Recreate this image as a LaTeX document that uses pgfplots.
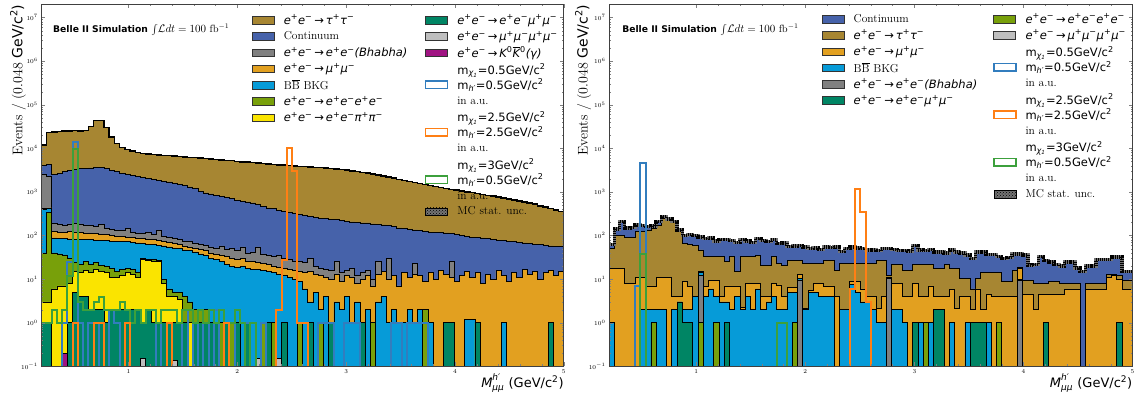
\documentclass[border=0pt]{standalone}
\usepackage{fontspec}
\usepackage{pgfplots}
\usepackage{pgfplotstable}
\pgfplotsset{compat=1.18}
\usetikzlibrary{patterns}
\newfontfamily\dvs{DejaVu Sans}

\definecolor{ctau}{RGB}{167,134,50}
\definecolor{ccont}{RGB}{70,98,170}
\definecolor{cbha}{RGB}{128,128,128}
\definecolor{cmumu}{RGB}{226,160,32}
\definecolor{cbb}{RGB}{6,155,216}
\definecolor{ceeee}{RGB}{120,160,10}
\definecolor{cpipi}{RGB}{250,228,0}
\definecolor{ceemm}{RGB}{0,133,100}
\definecolor{cmmmm}{RGB}{190,190,190}
\definecolor{ckk}{RGB}{160,20,130}
\definecolor{sblue}{RGB}{50,125,190}
\definecolor{sorange}{RGB}{255,127,20}
\definecolor{sgreen}{RGB}{60,160,60}

\newcommand{\su}[1]{\textsuperscript{\upshape #1}}
\newcommand{\pr}[1]{{\dvs\itshape #1}}
\newcommand{\arr}{\,{\upshape →}\,}
\newcommand{\ee}{e\su{+}e\su{−}}
\newcommand{\sig}[2]{\fontsize{11.5}{15}\selectfont{\dvs m\textsubscript{\itshape χ\textsubscript{1}}=#1GeV/c\su{2}}\\{\dvs m\textsubscript{\itshape h′}=#2GeV/c\su{2}}\\in a.u.}
\newcommand{\xlab}{$\mbox{\dvs\itshape M}^{\mbox{\fontsize{9}{9}\selectfont\dvs\itshape h′}}_{\mbox{\fontsize{9}{9}\selectfont\dvs\itshape μμ}}$ {\dvs (GeV/c\su{2})}}
\newcommand{\ylab}{Events / (0.048 {\dvs GeV/c\su{2})}}
\newcommand{\belle}{{\fontsize{9.2}{10}\selectfont\dvs\bfseries Belle II Simulation} {\fontsize{10.5}{11}\selectfont$\int\!\mathcal{L}dt=100$ fb$^{-1}$}}

% stacked heights per bin (cumulative, from the top layer down), and signal histograms
\pgfplotstableread{
x T C G O B E Y M Q K sA sB sC
0.200 0 0 0 0 0 0 0 0 0 0 0 0 0
0.200 12000 4000 2600 420 400 40 3 1 0 0 0 0 1
0.248 23000 4300 2300 430 410 340 3 1 0 0 0 0 1
0.296 24000 2500 190 125 88 40 6 0 0 0 0 0 2
0.344 24500 2700 180 120 86 38 7 0 0 0 0 0 1
0.392 25000 2900 175 118 85 36 7 0.2 0.2 0.2 1 0 2
0.440 25000 3100 185 122 84 30 8 1 0 0 25 0 12
0.488 25500 3300 190 120 83 24 15 5 0 0 14000 1 9500
0.536 25000 3400 185 118 82 22 14 4 0 0 1 0 3
0.584 26000 3500 175 115 80 25 16 4 0 0 0 0 2
0.632 32000 3550 170 112 80 22 14 2 0 0 1 0 2
0.680 43000 3600 165 110 78 24 17 2 0 0 1 1 3
0.728 44000 3600 180 108 77 21 15 2 0 0 0 1 4
0.776 30000 3500 150 105 76 20 14 1 0 0 0 0 2
0.824 18000 3100 140 100 75 18 11 2 0 0 2 0 2
0.872 13000 2900 135 98 74 15 11 2 0 0 1 0 2
0.920 10500 2700 130 95 72 17 12 2 0 0 0 0 3
0.968 9300 2500 145 92 72 18 14 2 0 0 0 1 2
1.016 8600 2350 120 90 70 17 13 2 0 0 0 0 1
1.064 8000 2250 115 88 68 14 11 2 0 0 0 0 2
1.112 7700 2150 112 86 66 30 28 1 0.15 0 0 0 1
1.160 7400 2050 118 84 64 29 27 2 0 0 0 0 2
1.208 7200 1950 105 80 62 28 26 1 0 0 0 0 2
1.256 7000 1850 130 78 60 27 25 1 0 0 1 0 1
1.304 6900 1780 95 75 58 10 8 1 0 0 0 0 2
1.352 6800 1700 90 70 55 6 4 1 0 0 1 1 2
1.400 6650 1600 85 66 52 5 4 1 0.14 0 0 0 2
1.448 6500 1500 80 62 50 5 3.5 1 0 0 0 0 1
1.496 6350 1400 75 58 47 4 1 1 0 0 2 0 2
1.544 6200 1300 72 55 45 3 1 0 0 0 0 0 2
1.592 6100 1200 68 52 42 2 1 1 0 0 1 0 1
1.640 6000 1050 62 48 38 2 1 1 0 0 0 0 2
1.688 5850 950 60 45 35 2 1 1 0 0 1 0 1
1.736 5700 900 55 40 30 1 1 1 0 0 0 0 2
1.784 5550 850 52 38 28 1 1 1 0 0 2 0 1
1.832 5450 800 58 36 25 1 0 0 0 0 0 0 2
1.880 5300 750 48 33 22 1 1 1 0 0 0 1 1
1.928 5200 700 50 30 20 1 0 0 0 0 1 0 1
1.976 5050 650 45 29 19 1 1 1 0 0 0 0 2
2.024 4900 620 55 30 20 0 0 0 0 0 0 0 1
2.072 4800 590 40 26 18 1 1 1 0 0 1 0 0
2.120 4700 560 42 25 17 0 0 0 0 0 0 0 1
2.168 4600 520 55 24 17 0.15 0.15 0.15 0.15 0 0 0 0
2.216 4500 470 38 23 16 1 0 0 0 0 1 0 0
2.264 4400 430 36 22 15 1 1 1 0 0 0 0 0
2.312 4300 420 33 20 14 1 0 0 0 0 0 0 0
2.360 4200 380 35 19 13 0.15 0.15 0.15 0.15 0 0 2 0
2.408 4100 360 30 18 12 1 1 1 0 0 0 27 0
2.456 4000 340 28 17 11 0 0 0 0 0 0 10000 0
2.504 3900 320 26 16 10 0 0 0 0 0 0 3000 0
2.552 3850 300 25 15 9 1 0 0 0 0 0 1 0
2.600 3800 290 24 14 6 0 0 0 0 0 0 1 0
2.648 3700 280 30 15 3 1 1 1 0 0 0 0 0
2.696 3650 265 20 13 5 0 0 0 0 0 0 0 0
2.744 3600 250 18 12 2 1 0 0 0 0 1 0 0
2.792 3500 245 17 11 4 0 0 0 0 0 1 0 0
2.840 3450 235 16 10 1 1 1 1 0 0 1 0 0
2.888 3350 230 26 13 3 0 0 0 0 0 0 0 0
2.936 3300 220 14 9 2 0 0 0 0 0 0 0 0
2.984 3200 215 16 12 4 0 0 0 0 0 1 0 0
3.032 3050 205 18 11 1 0 0 0 0 0 1 0 0
3.080 2950 200 12 8 3 0 0 0 0 0 1 0 0
3.128 2800 195 14 10 1 1 1 1 0 0 0 0 0
3.176 2700 195 16 12 2 0 0 0 0 0 0 0 0
3.224 2600 185 10 7 1 1 0 0 0 0 0 0 0
3.272 2450 180 25 13 3 0 0 0 0 0 0 0 0
3.320 2300 175 15 15 4 0 0 0 0 0 0 0 0
3.368 2200 170 30 10 1 0 0 0 0 0 0 0 0
3.416 2100 160 12 12 2 0 0 0 0 0 1 0 0
3.464 1950 150 7 7 1 0 0 0 0 0 1 0 0
3.512 1850 145 14 14 1 0 0 0 0 0 0 0 0
3.560 1750 140 11 11 2 0 0 0 0 0 1 0 0
3.608 1650 135 23 13 1 0 0 0 0 0 1 0 0
3.656 1580 130 12 12 2 0 0 0 0 0 1 0 0
3.704 1500 125 9 9 2 2 0 0 0 0 1 0 0
3.752 1420 120 14 14 1 0 0 0 0 0 0 0 0
3.800 1350 118 10 10 0 0 0 0 0 0 0 0 0
3.848 1280 116 16 16 0 0 0 0 0 0 0 0 0
3.896 1200 115 13 13 1 1 1 1 0 0 0 0 0
3.944 1150 110 25 11 1 1 1 1 0 0 0 0 0
3.992 1100 105 9 9 0 0 0 0 0 0 0 0 0
4.040 1050 100 12 12 0 0 0 0 0 0 0 0 0
4.088 1000 95 15 15 1.2 0 0 0 0 0 0 0 0
4.136 960 92 11 11 1.2 0 0 0 0 0 0 0 0
4.184 930 90 14 14 1 1 1 1 0 0 0 0 0
4.232 880 88 8 8 0 0 0 0 0 0 0 0 0
4.280 840 85 13 13 0 0 0 0 0 0 0 0 0
4.328 800 80 10 10 0 0 0 0 0 0 0 0 0
4.376 760 78 16 16 0 0 0 0 0 0 0 0 0
4.424 720 76 12 12 1 0 0 0 0 0 0 0 0
4.472 690 74 9 9 0 0 0 0 0 0 0 0 0
4.520 650 73 14 14 0 0 0 0 0 0 0 0 0
4.568 620 70 11 11 0 0 0 0 0 0 0 0 0
4.616 590 68 17 17 0 0 0 0 0 0 0 0 0
4.664 560 66 13 13 0 0 0 0 0 0 0 0 0
4.712 530 64 15 15 0 0 0 0 0 0 0 0 0
4.760 480 62 10 10 0 0 0 0 0 0 0 0 0
4.808 450 60 14 14 0 0 0 0 0 0 0 0 0
4.856 420 58 16 16 1 1 1 1 0 0 0 0 0
4.904 390 57 12 12 0 0 0 0 0 0 0 0 0
4.952 360 56 15 15 0 0 0 0 0 0 0 0 0
5.000 360 56 15 15 0 0 0 0 0 0 0 0 0
5.000 0 0 0 0 0 0 0 0 0 0 0 0 0
}\leftdata

\pgfplotstableread{
x C T O B G M E sA sB sC
0.200 0 0 0 0 0 0 0 0 0 0
0.200 63 50 18 1 0 0 0 0 0 0
0.248 140 100 18 0 0 0 0 0 0 0
0.296 210 100 18 0 0 0 0 0 0 0
0.344 150 92 8 0 0 0 0 0 0 0
0.392 155 90 8 0 0 0 0 0 0 0
0.440 175 122 11 0 0 0 0 7 0 0
0.488 172 125 11 2 0 0 0 4700 0 38
0.536 160 135 7 2 0 0 0 0 0 0
0.584 165 150 7 2 1 1 1 0 0 0
0.632 210 175 11 2 0 0 0 0 0 0
0.680 270 250 11 2 0 0 0 0 0 0
0.728 240 220 11 0 0 0 0 0 0 0
0.776 210 200 4 2 0 0 0 0 0 0
0.824 135 123 4 3 3 3 0 0 0 0
0.872 100 66 9 2 1 1 0 0 0 0
0.920 105 62 7 2 1 1 0 0 0 0
0.968 100 60 4 4 0 0 0 0 0 0
1.016 92 47 15 14 12 1 1 0 0 0
1.064 85 33 7 4 0 0 0 0 0 0
1.112 88 33 9.5 6 0 0 0 0 0 0
1.160 75 33 9.5 4 1 1 1 0 0 0
1.208 80 33 4 3 0 0 0 0 0 0
1.256 82 25 7 3 1 1 0 0 0 0
1.304 78 33 7 2 0 0 0 0 0 0
1.352 70 15 7 4 0 0 0 0 0 0
1.400 80 33 2.3 2 0 0 0 0 0 0
1.448 75 33 8 4 0 0 0 0 0 0
1.496 70 33 8 2 0 0 0 0 0 0
1.544 85 35 8 6 0 0 0 0 0 0
1.592 78 21 4 2 0 0 0 0 0 0
1.640 72 21 4 3 0 0 0 0 0 0
1.688 80 33 8 4 0 0 0 0 0 0
1.736 66 23 7.4 2 0 0 0 0 0 1
1.784 68 21 4 2 0 0 0 0 0 1
1.832 56 27 6.5 5 0 0 0 0 0 0
1.880 58 27 6.5 5 1 1 1 0 0 0
1.928 60 27 13 10.5 9.5 0 0 0 0 0
1.976 55 23 2.1 2 0 0 0 0 0 0
2.024 50 23 5.5 5 0 0 0 0 0 0
2.072 52 23 8 5 0 0 0 0 0 0
2.120 48 23 8 4 0 0 0 0 0 0
2.168 55 27 7 4 0 0 0 0 0 0
2.216 53 27 7 4 0 0 0 0 0 0
2.264 55 16 4 0 0 0 0 0 0 0
2.312 43 23 2 2 0 0 0 0 0 0
2.360 50 23 2 2 0 0 0 0 0 0
2.408 55 23 9 7.5 0 0 0 0 6 0
2.456 52 23 9 5 0 0 0 0 1200 0
2.504 50 23 6 3 0 0 0 0 350 0
2.552 47 23 4 3 0 0 0 0 3 0
2.600 47 23 4 2 0 0 0 0 0 0
2.648 45 27 2.1 1 0 0 0 0 0 0
2.696 50 27 4 1 0 0 0 0 0 0
2.744 50 12 11 10.8 10.5 0 0 0 0 0
2.792 48 22 8 2 0 0 0 0 0 0
2.840 45 22 8 2 0 0 0 0 0 0
2.888 45 16 4 1 0 0 0 0 0 0
2.936 44 16 4 0 0 0 0 0 0 0
2.984 60 22 8 1 1 1 0 0 0 0
3.032 47 22 4 1 0 0 0 0 0 0
3.080 46 22 4 1 1 1 1 0 0 0
3.128 48 22 7 1 0 0 0 0 0 0
3.176 42 18 4 2 2 2 0 0 0 0
3.224 42 18 4 2 2 2 0 0 0 0
3.272 40 22 4 0 0 0 0 0 0 0
3.320 47 18 5.8 1 0 0 0 0 0 0
3.368 42 18 2.1 0 0 0 0 0 0 0
3.416 40 10.5 4 0 0 0 0 0 0 0
3.464 36 10.5 4 1 0 0 0 0 0 0
3.512 30 6 2 1 1 1 0 0 0 0
3.560 42 10.5 6 1 1 1 0 0 0 0
3.608 42 14 2 1 1 1 0 0 0 0
3.656 37 14 4.5 1 0 0 0 0 0 0
3.704 37 14.5 4 0 0 0 0 0 0 0
3.752 33 14.5 4 1 1 1 1 0 0 0
3.800 30 8.7 4 0 0 0 0 0 0 0
3.848 31 8.7 4 0 0 0 0 0 0 0
3.896 38 16 4 0 0 0 0 0 0 0
3.944 38 19 18 10 9.5 0 0 0 0 0
3.992 36 9.5 4.5 0 0 0 0 0 0 0
4.040 21 9.5 4.5 0 0 0 0 0 0 0
4.088 22 8 2 0 0 0 0 0 0 0
4.136 33 8 4.5 0 0 0 0 0 0 0
4.184 27 8 4.5 1 1 1 0 0 0 0
4.232 25 8.7 4.5 0 0 0 0 0 0 0
4.280 22 8.7 4.5 0 0 0 0 0 0 0
4.328 20 8 4.5 0 0 0 0 0 0 0
4.376 25 8 5.8 0 0 0 0 0 0 0
4.424 25 8 5.8 0 0 0 0 0 0 0
4.472 18 8 5.8 0 0 0 0 0 0 0
4.520 15 0 0 0 0 0 0 0 0 0
4.568 20 8 5.8 0 0 0 0 0 0 0
4.616 20 8 5.8 0 0 0 0 0 0 0
4.664 28 8 5.8 0 0 0 0 0 0 0
4.712 28 8 5.8 0 0 0 0 0 0 0
4.760 28 13 11 0 0 0 0 0 0 0
4.808 32 13 12 0 0 0 0 0 0 0
4.856 32 12 10 1 1 1 0 0 0 0
4.904 15 9.5 5.8 0 0 0 0 0 0 0
4.952 15 9.5 5.8 0 0 0 0 0 0 0
5.000 15 9.5 5.8 0 0 0 0 0 0 0
5.000 0 0 0 0 0 0 0 0 0 0
}\rightdata

\pgfplotsset{
  mylay/.style={const plot, fill=#1, draw=black, line width=0.7pt, forget plot},
  mysig/.style={const plot, draw=#1, line width=2pt, forget plot},
  mystk/.style={fill=#1, draw=black!80, line width=0.7pt},
  mysgi/.style={fill=white, draw=#1, line width=1.5pt},
}

\begin{document}
\begin{tikzpicture}
\useasboundingbox (0,0) rectangle (1138pt,398pt);

% ---------------- left panel ----------------
\begin{axis}[at={(41.3pt,31.6pt)}, anchor=south west,
  scale only axis, width=522.5pt, height=362pt,
  xmin=0.2, xmax=5, ymode=log, ymin=0.1, ymax=2e7,
  xtick={1,2,3,4,5}, minor x tick num=4,
  ytick={1e-1,1,10,100,1e3,1e4,1e5,1e6,1e7},
  tick align=inside, xtick pos=both, ytick pos=both,
  major tick length=4pt, minor tick length=2pt,
  tick label style={font=\fontsize{6.5}{6.5}\selectfont},
  axis line style={black!75, line width=0.8pt},
  axis on top,
  xlabel={\xlab}, ylabel={\ylab},
  xlabel style={at={(axis description cs:1,-0.046)}, anchor=east, inner sep=0pt, font=\fontsize{13}{13}\selectfont},
  ylabel style={at={(axis description cs:-0.0446,1)}, anchor=east, inner sep=0pt, font=\fontsize{14}{14}\selectfont},
  legend style={at={(0.4035,0.979)}, anchor=north west, draw=none, fill=none,
      inner sep=0pt, outer sep=0pt, row sep=0pt, column sep=9pt,
      font=\fontsize{11.5}{15}\selectfont,
      nodes={inner sep=0pt, minimum height=16.3pt, align=left, anchor=west}},
  legend cell align=left,
  legend image code/.code={\draw[#1] (0pt,-3.8pt) rectangle (22pt,3.8pt);},
]
\addplot[mylay=ctau]  table[x=x, y expr={max(\thisrow{T},0.001)}]{\leftdata};
\addplot[mylay=ccont] table[x=x, y expr={max(\thisrow{C},0.001)}]{\leftdata};
\addplot[mylay=cbha]  table[x=x, y expr={max(\thisrow{G},0.001)}]{\leftdata};
\addplot[mylay=cmumu] table[x=x, y expr={max(\thisrow{O},0.001)}]{\leftdata};
\addplot[mylay=cbb]   table[x=x, y expr={max(\thisrow{B},0.001)}]{\leftdata};
\addplot[mylay=ceeee] table[x=x, y expr={max(\thisrow{E},0.001)}]{\leftdata};
\addplot[mylay=cpipi] table[x=x, y expr={max(\thisrow{Y},0.001)}]{\leftdata};
\addplot[mylay=ceemm] table[x=x, y expr={max(\thisrow{M},0.001)}]{\leftdata};
\addplot[mylay=cmmmm] table[x=x, y expr={max(\thisrow{Q},0.001)}]{\leftdata};
\addplot[mylay=ckk]   table[x=x, y expr={max(\thisrow{K},0.001)}]{\leftdata};
% MC statistical uncertainty along the total
\addplot[const plot, draw=black, line width=1.5pt, forget plot,
  skip coords between index={0}{1}, skip coords between index={102}{103}]
  table[x=x, y=T]{\leftdata};
% signal shapes
\addplot[mysig=sblue]   table[x=x, y expr={max(\thisrow{sA},0.001)}]{\leftdata};
\addplot[mysig=sgreen]  table[x=x, y expr={max(\thisrow{sC},0.001)}]{\leftdata};
\addplot[mysig=sorange] table[x=x, y expr={max(\thisrow{sB},0.001)}]{\leftdata};
\node[anchor=west, inner sep=0pt] at (axis description cs:0.0224,0.929) {\belle};
\addlegendimage{mystk=ctau}\addlegendentry{\pr{\ee\arr τ\su{+}τ\su{−}}}
\addlegendimage{mystk=ccont}\addlegendentry{Continuum}
\addlegendimage{mystk=cbha}\addlegendentry{\pr{\ee\arr \ee(Bhabha)}}
\addlegendimage{mystk=cmumu}\addlegendentry{\pr{\ee\arr μ\su{+}μ\su{−}}}
\addlegendimage{mystk=cbb}\addlegendentry{B$\overline{\mbox{B}}$ BKG}
\addlegendimage{mystk=ceeee}\addlegendentry{\pr{\ee\arr \ee\ee}}
\addlegendimage{mystk=cpipi}\addlegendentry{\pr{\ee\arr \ee π\su{+}π\su{−}}}
\end{axis}

\begin{axis}[at={(41.3pt,31.6pt)}, anchor=south west,
  hide axis, scale only axis, width=522.5pt, height=362pt,
  xmin=0, xmax=1, ymin=0, ymax=1,
  legend style={at={(0.734,0.979)}, anchor=north west, draw=none, fill=none,
      inner sep=0pt, outer sep=0pt, row sep=0pt, column sep=9pt,
      font=\fontsize{11.5}{15}\selectfont,
      nodes={inner sep=0pt, minimum height=16.3pt, align=left, anchor=west}},
  legend cell align=left,
  legend image code/.code={\draw[#1] (0pt,-3.8pt) rectangle (22pt,3.8pt);},
]
\addlegendimage{mystk=ceemm}\addlegendentry{\pr{\ee\arr \ee μ\su{+}μ\su{−}}}
\addlegendimage{mystk=cmmmm}\addlegendentry{\pr{\ee\arr μ\su{+}μ\su{−}μ\su{+}μ\su{−}}}
\addlegendimage{mystk=ckk}\addlegendentry{\pr{\ee\arr K\su{0}}$\overline{\mbox{\pr{K}}}$\pr{\su{0}(γ)}}
\addlegendimage{mysgi=sblue}\addlegendentry[minimum height=47.5pt]{\sig{0.5}{0.5}}
\addlegendimage{mysgi=sorange}\addlegendentry[minimum height=47.5pt]{\sig{2.5}{2.5}}
\addlegendimage{mysgi=sgreen}\addlegendentry[minimum height=47.5pt]{\sig{3}{0.5}}
\addlegendimage{fill=black!55, draw=none, postaction={pattern=crosshatch dots, pattern color=black}}\addlegendentry{MC stat. unc.}
\end{axis}

% ---------------- right panel ----------------
\begin{axis}[at={(609pt,31.6pt)}, anchor=south west,
  scale only axis, width=523.5pt, height=362pt,
  xmin=0.2, xmax=5, ymode=log, ymin=0.1, ymax=2e7,
  xtick={1,2,3,4,5}, minor x tick num=4,
  ytick={1e-1,1,10,100,1e3,1e4,1e5,1e6,1e7},
  tick align=inside, xtick pos=both, ytick pos=both,
  major tick length=4pt, minor tick length=2pt,
  tick label style={font=\fontsize{6.5}{6.5}\selectfont},
  axis line style={black!75, line width=0.8pt},
  axis on top,
  xlabel={\xlab}, ylabel={\ylab},
  xlabel style={at={(axis description cs:1,-0.046)}, anchor=east, inner sep=0pt, font=\fontsize{13}{13}\selectfont},
  ylabel style={at={(axis description cs:-0.0496,1)}, anchor=east, inner sep=0pt, font=\fontsize{14}{14}\selectfont},
  legend style={at={(0.4069,0.982)}, anchor=north west, draw=none, fill=none,
      inner sep=0pt, outer sep=0pt, row sep=0pt, column sep=9pt,
      font=\fontsize{11.5}{15}\selectfont,
      nodes={inner sep=0pt, minimum height=16.3pt, align=left, anchor=west}},
  legend cell align=left,
  legend image code/.code={\draw[#1] (0pt,-3.8pt) rectangle (22pt,3.8pt);},
]
\addplot[mylay=ccont] table[x=x, y expr={max(\thisrow{C},0.001)}]{\rightdata};
\addplot[mylay=ctau]  table[x=x, y expr={max(\thisrow{T},0.001)}]{\rightdata};
\addplot[mylay=cmumu] table[x=x, y expr={max(\thisrow{O},0.001)}]{\rightdata};
\addplot[mylay=cbb]   table[x=x, y expr={max(\thisrow{B},0.001)}]{\rightdata};
\addplot[mylay=cbha]  table[x=x, y expr={max(\thisrow{G},0.001)}]{\rightdata};
\addplot[mylay=ceemm] table[x=x, y expr={max(\thisrow{M},0.001)}]{\rightdata};
\addplot[mylay=ceeee] table[x=x, y expr={max(\thisrow{E},0.001)}]{\rightdata};
% MC statistical uncertainty along the total
\addplot[const plot, draw=black!55, line width=3.4pt, forget plot,
  skip coords between index={0}{1}, skip coords between index={102}{103}]
  table[x=x, y=C]{\rightdata};
\addplot[const plot, draw=black, line width=3.4pt, dash pattern=on 1pt off 1pt, forget plot,
  skip coords between index={0}{1}, skip coords between index={102}{103}]
  table[x=x, y=C]{\rightdata};
% signal shapes
\addplot[mysig=sblue]   table[x=x, y expr={max(\thisrow{sA},0.001)}]{\rightdata};
\addplot[mysig=sgreen]  table[x=x, y expr={max(\thisrow{sC},0.001)}]{\rightdata};
\addplot[mysig=sorange] table[x=x, y expr={max(\thisrow{sB},0.001)}]{\rightdata};
\node[anchor=west, inner sep=0pt] at (axis description cs:0.025,0.929) {\belle};
\addlegendimage{mystk=ccont}\addlegendentry{Continuum}
\addlegendimage{mystk=ctau}\addlegendentry{\pr{\ee\arr τ\su{+}τ\su{−}}}
\addlegendimage{mystk=cmumu}\addlegendentry{\pr{\ee\arr μ\su{+}μ\su{−}}}
\addlegendimage{mystk=cbb}\addlegendentry{B$\overline{\mbox{B}}$ BKG}
\addlegendimage{mystk=cbha}\addlegendentry{\pr{\ee\arr \ee(Bhabha)}}
\addlegendimage{mystk=ceemm}\addlegendentry{\pr{\ee\arr \ee μ\su{+}μ\su{−}}}
\end{axis}

\begin{axis}[at={(609pt,31.6pt)}, anchor=south west,
  hide axis, scale only axis, width=523.5pt, height=362pt,
  xmin=0, xmax=1, ymin=0, ymax=1,
  legend style={at={(0.7335,0.982)}, anchor=north west, draw=none, fill=none,
      inner sep=0pt, outer sep=0pt, row sep=0pt, column sep=9pt,
      font=\fontsize{11.5}{15}\selectfont,
      nodes={inner sep=0pt, minimum height=16.3pt, align=left, anchor=west}},
  legend cell align=left,
  legend image code/.code={\draw[#1] (0pt,-3.8pt) rectangle (22pt,3.8pt);},
]
\addlegendimage{mystk=ceeee}\addlegendentry{\pr{\ee\arr \ee\ee}}
\addlegendimage{mystk=cmmmm}\addlegendentry{\pr{\ee\arr μ\su{+}μ\su{−}μ\su{+}μ\su{−}}}
\addlegendimage{mysgi=sblue}\addlegendentry[minimum height=47.5pt]{\sig{0.5}{0.5}}
\addlegendimage{mysgi=sorange}\addlegendentry[minimum height=47.5pt]{\sig{2.5}{2.5}}
\addlegendimage{mysgi=sgreen}\addlegendentry[minimum height=47.5pt]{\sig{3}{0.5}}
\addlegendimage{fill=black!55, draw=none, postaction={pattern=crosshatch dots, pattern color=black}}\addlegendentry{MC stat. unc.}
\end{axis}
\end{tikzpicture}
\end{document}
